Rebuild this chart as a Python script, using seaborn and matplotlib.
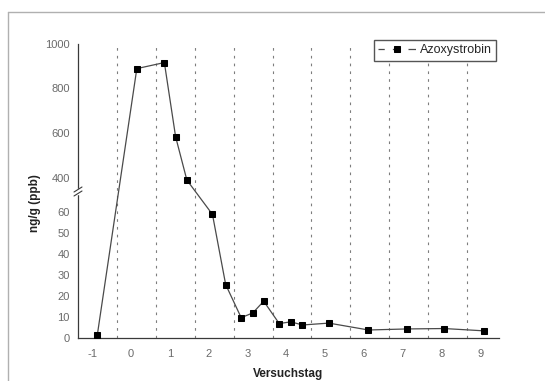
import numpy as np
import pandas as pd
import matplotlib
matplotlib.use("Agg")
import matplotlib.pyplot as plt
from matplotlib.ticker import FixedLocator, NullFormatter
from matplotlib.lines import Line2D
import seaborn as sns

# Measured residues of azoxystrobin over the trial days
days = [-0.87, 0.15, 0.86, 1.15, 1.44, 2.10, 2.44, 2.84, 3.14, 3.42,
        3.82, 4.12, 4.42, 5.10, 6.12, 7.11, 8.07, 9.09]
residue = [1.0, 888, 915, 584, 391, 59, 25.4, 9.5, 11.8, 17.4,
           6.7, 7.5, 6.0, 6.9, 3.6, 4.1, 4.3, 3.2]
series_name = "Azoxystrobin"

x_tick_labels = [-1, 0, 1, 2, 3, 4, 5, 6, 7, 8, 9]
lower_ticks = [0, 10, 20, 30, 40, 50, 60]
upper_ticks = [400, 600, 800, 1000]

# broken y axis: 0..70 below the break, 340..1000 above it
BREAK_LO, BREAK_HI, Y_TOP = 70.0, 340.0, 1000.0
K = (148.0 / 146.0) * BREAK_LO / (Y_TOP - BREAK_HI)


def fwd(y):
    y = np.asarray(y, dtype=float)
    return np.where(y <= BREAK_LO, y,
                    np.where(y >= BREAK_HI, BREAK_LO + (y - BREAK_HI) * K, BREAK_LO))


def inv(t):
    t = np.asarray(t, dtype=float)
    return np.where(t <= BREAK_LO, t, BREAK_HI + (t - BREAK_LO) / K)


sns.set_style("white")
plt.rcParams["font.family"] = ["Liberation Sans", "DejaVu Sans"]

W, H = 545, 381
fig = plt.figure(figsize=(W / 100, H / 100), dpi=100)
ax = fig.add_axes([78 / W, 1 - 337.5 / H, 421 / W, 294 / H])

df = pd.DataFrame({"Versuchstag": days, "ng/g (ppb)": residue})
ax.set_yscale("function", functions=(fwd, inv))

# day-boundary grid lines
grid_pos = [k - 0.35 for k in range(0, 10)]
for g in grid_pos:
    ax.axvline(g, color="#7d7d7d", lw=0.8, linestyle=(0, (2.4, 4.6)), zorder=0)

sns.lineplot(data=df, x="Versuchstag", y="ng/g (ppb)", ax=ax, color="#4a4a4a",
             lw=0.9, marker="s", markersize=4, markerfacecolor="black",
             markeredgecolor="black", label=series_name, zorder=3)

ax.set_xlim(-1.366, 9.485)
ax.set_ylim(0, Y_TOP)

for side in ("top", "right"):
    ax.spines[side].set_visible(False)
for side in ("left", "bottom"):
    ax.spines[side].set_color("#3a3a3a")
    ax.spines[side].set_linewidth(0.9)

# x: labels on whole days, tick marks on the day boundaries
ax.xaxis.set_major_locator(FixedLocator(x_tick_labels))
ax.set_xticklabels([str(v) for v in x_tick_labels])
ax.xaxis.set_minor_locator(FixedLocator(grid_pos))
ax.xaxis.set_minor_formatter(NullFormatter())
ax.tick_params(axis="x", which="major", length=0, pad=8, labelsize=8,
               labelcolor="#6a6a6a")
ax.tick_params(axis="x", which="minor", length=5, width=0.8, direction="inout",
               color="#3a3a3a")

# y: ticks on both sides of the break
ax.yaxis.set_major_locator(FixedLocator(lower_ticks + upper_ticks))
ax.set_yticklabels([str(v) for v in lower_ticks + upper_ticks])
ax.yaxis.set_minor_locator(FixedLocator([5, 15, 25, 35, 45, 55, 65, 500, 700, 900]))
ax.yaxis.set_minor_formatter(NullFormatter())
ax.tick_params(axis="y", which="major", length=4, width=0.8, direction="out",
               pad=2, labelsize=8, labelcolor="#6a6a6a", color="#3a3a3a")
ax.tick_params(axis="y", which="minor", length=2, width=0.8, direction="out",
               color="#3a3a3a")

ax.set_xlabel("")
ax.set_ylabel("")

# break marks on the y axis
yb = 146 / 294
px, py = 1 / 421, 1 / 294
ax.add_patch(plt.Rectangle((-3 * px, yb - 2.5 * py), 6 * px, 5 * py,
                           transform=ax.transAxes, color="white",
                           clip_on=False, zorder=4))
for dy in (-2.0, 2.0):
    ax.add_line(Line2D([-4 * px, 4 * px], [yb + dy * py - 2.5 * py, yb + dy * py + 2.5 * py],
                       transform=ax.transAxes, color="#3a3a3a", lw=0.8,
                       clip_on=False, zorder=5))

leg = ax.legend(loc="upper right", bbox_to_anchor=(0.993, 1.012), borderaxespad=0,
                fontsize=9, frameon=True, fancybox=False, framealpha=1,
                edgecolor="#555555", handlelength=3.0, handletextpad=0.3,
                borderpad=0.35)
leg.get_frame().set_linewidth(1.0)
for h in leg.legend_handles:
    h.set_linestyle((1.0, (6.0, 6.5)))

fig.text(35 / W, 1 - 203 / H, "ng/g (ppb)", rotation=90, ha="center", va="center",
         fontsize=8.5, fontweight="bold", color="#222222")
fig.text(288 / W, 1 - 374 / H, "Versuchstag", ha="center", va="center",
         fontsize=8.5, fontweight="bold", color="#222222")

# page frame
fig.add_artist(Line2D([8 / W, 1], [1 - 12 / H, 1 - 12 / H], color="#b0b0b0", lw=1))
fig.add_artist(Line2D([8 / W, 8 / W], [0, 1 - 12 / H], color="#b0b0b0", lw=1))

fig.savefig("out.png", dpi=100)
